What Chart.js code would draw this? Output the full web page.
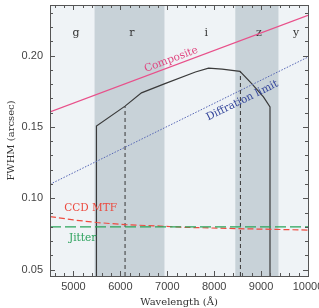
<!DOCTYPE html>
<html>
<head>
<meta charset="utf-8">
<script src="https://cdn.jsdelivr.net/npm/chart.js@4"></script>
<style>
html, body { margin: 0; padding: 0; background: #fff; }
</style>
</head>
<body>
<canvas id="fwhm-plot" width="319" height="308"></canvas>
<script>
// axis ranges and tick labels
let xMin = 4500, xMax = 10000;
let yMin = 0.0455, yMax = 0.2355;
let xTicks = [5000, 6000, 7000, 8000, 9000, 10000];
let yTicks = [0.05, 0.10, 0.15, 0.20];

// filter bands (shaded ones are r and z)
let bandNames = ['g', 'r', 'i', 'z', 'y'];
let bandLabelX = [5055, 6245, 7830, 8955, 9745];
let bandLabelY = 0.2156;
let shadeStart = [5450, 8450];
let shadeEnd = [6940, 9370];

// series
let compositeX = [4500, 10000];
let compositeY = [0.1606, 0.2282];
let diffX = [4500, 10000];
let diffY = [0.1098, 0.1990];
let ccdX = [4500, 5000, 5500, 6100, 6850, 7300, 8500, 10000];
let ccdY = [0.0872, 0.0848, 0.0830, 0.0815, 0.0805, 0.0797, 0.0787, 0.0777];
let jitterX = [4500, 10000];
let jitterY = [0.0799, 0.0799];
let fwhmX = [5490, 5490, 6100, 6450, 6950, 7600, 7880, 8170, 8550, 8800, 9050, 9190, 9190];
let fwhmY = [yMin, 0.1506, 0.1646, 0.1739, 0.1804, 0.1885, 0.1912, 0.1906, 0.1890, 0.1804, 0.1711, 0.1640, yMin];
let markX = [6100, 8560];
let markY = [0.1646, 0.1890];

// annotation labels
let noteText = ['Composite', 'Diffration limit', 'CCD MTF', 'Jitter'];
let noteX = [7083, 8600, 5365, 5194];
let noteY = [0.1972, 0.1684, 0.0927, 0.0717];

function pts(xs, ys) {
    return xs.map((v, i) => ({ x: v, y: ys[i] }));
}

function slopeAngle(xs, ys, sx, sy) {
    let x0 = sx.getPixelForValue(xs[0]), y0 = sy.getPixelForValue(ys[0]);
    let x1 = sx.getPixelForValue(xs[xs.length - 1]), y1 = sy.getPixelForValue(ys[ys.length - 1]);
    return Math.atan2(y1 - y0, x1 - x0);
}

const decor = {
    id: 'decor',
    beforeDatasetsDraw(chart) {
        const { ctx, chartArea: a, scales: { x, y } } = chart;
        ctx.save();
        ctx.fillStyle = '#eff3f6';
        ctx.fillRect(a.left, a.top, a.right - a.left, a.bottom - a.top);
        ctx.fillStyle = '#c8d2d8';
        for (let i = 0; i < shadeStart.length; i++) {
            let x0 = x.getPixelForValue(shadeStart[i]);
            let x1 = x.getPixelForValue(shadeEnd[i]);
            ctx.fillRect(x0, a.top, x1 - x0, a.bottom - a.top);
        }
        ctx.fillStyle = '#333';
        ctx.font = '11px "DejaVu Serif"';
        ctx.textAlign = 'center';
        ctx.textBaseline = 'middle';
        for (let i = 0; i < bandNames.length; i++) {
            ctx.fillText(bandNames[i], x.getPixelForValue(bandLabelX[i]), y.getPixelForValue(bandLabelY));
        }
        ctx.restore();
    },
    afterDatasetsDraw(chart) {
        const { ctx, chartArea: a, scales: { x, y } } = chart;
        ctx.save();
        ctx.strokeStyle = '#555';
        ctx.lineWidth = 1;
        ctx.beginPath();
        // x ticks, top and bottom, inward
        for (let v = 4600; v < xMax; v += 200) {
            let len = (v % 1000 === 0) ? 5 : 3;
            let px = Math.round(x.getPixelForValue(v)) + 0.5;
            ctx.moveTo(px, a.bottom); ctx.lineTo(px, a.bottom - len);
            ctx.moveTo(px, a.top); ctx.lineTo(px, a.top + len);
        }
        // y ticks, left and right
        for (let k = 5; k <= 23; k++) {
            let v = k / 100;
            let len = (k % 5 === 0) ? 5 : 3;
            let py = Math.round(y.getPixelForValue(v)) + 0.5;
            ctx.moveTo(a.left, py); ctx.lineTo(a.left + len, py);
            ctx.moveTo(a.right, py); ctx.lineTo(a.right - len, py);
        }
        ctx.stroke();
        ctx.strokeRect(Math.round(a.left) + 0.5, Math.round(a.top) + 0.5,
            Math.round(a.right - a.left), Math.round(a.bottom - a.top));

        // labels on the curves
        let colors = ['#e0457f', '#33449a', '#ec4a3f', '#29a05a'];
        let angles = [slopeAngle(compositeX, compositeY, x, y), slopeAngle(diffX, diffY, x, y), 0, 0];
        ctx.font = '10.5px "DejaVu Serif"';
        ctx.textAlign = 'center';
        ctx.textBaseline = 'middle';
        for (let i = 0; i < noteText.length; i++) {
            ctx.save();
            ctx.translate(x.getPixelForValue(noteX[i]), y.getPixelForValue(noteY[i]));
            ctx.rotate(angles[i]);
            ctx.fillStyle = colors[i];
            ctx.fillText(noteText[i], 0, 0);
            ctx.restore();
        }
        ctx.restore();
    }
};

let lineBase = { showLine: true, pointRadius: 0, fill: false, tension: 0 };

new Chart(document.getElementById('fwhm-plot'), {
    type: 'scatter',
    data: {
        datasets: [
            Object.assign({ label: 'Composite', data: pts(compositeX, compositeY), borderColor: '#e8508a', borderWidth: 1.2 }, lineBase),
            Object.assign({ label: 'Diffraction', data: pts(diffX, diffY), borderColor: '#5565b5', borderWidth: 1, borderDash: [1.5, 1.5] }, lineBase),
            Object.assign({ label: 'Jitter', data: pts(jitterX, jitterY), borderColor: '#2aa55a', borderWidth: 1.2, borderDash: [11, 4] }, lineBase),
            Object.assign({ label: 'CCD MTF', data: pts(ccdX, ccdY), borderColor: '#ee4b3f', borderWidth: 1.2, borderDash: [6, 3] }, lineBase),
            Object.assign({ label: 'r mark', data: [{ x: markX[0], y: yMin }, { x: markX[0], y: markY[0] }], borderColor: '#444', borderWidth: 1.1, borderDash: [4, 3] }, lineBase),
            Object.assign({ label: 'z mark', data: [{ x: markX[1], y: yMin }, { x: markX[1], y: markY[1] }], borderColor: '#444', borderWidth: 1.1, borderDash: [4, 3] }, lineBase),
            Object.assign({ label: 'FWHM', data: pts(fwhmX, fwhmY), borderColor: '#3a3a3a', borderWidth: 1.2 }, lineBase)
        ]
    },
    options: {
        responsive: false,
        animation: false,
        layout: { padding: { top: 5, right: 11, left: 0, bottom: 0 } },
        plugins: { legend: { display: false }, tooltip: { enabled: false } },
        scales: {
            x: {
                type: 'linear',
                min: xMin,
                max: xMax,
                grid: { display: false, drawTicks: false },
                border: { display: false },
                afterBuildTicks: (s) => { s.ticks = xTicks.map(v => ({ value: v })); },
                afterFit: (s) => { s.height = 32; s.paddingLeft = 0; s.paddingRight = 0; },
                ticks: {
                    padding: 4,
                    autoSkip: false,
                    maxRotation: 0,
                    color: '#444',
                    font: { family: 'Liberation Sans', size: 11 },
                    callback: (v) => String(v)
                },
                title: {
                    display: true,
                    text: 'Wavelength (Å)',
                    color: '#333',
                    font: { family: 'DejaVu Serif', size: 10 },
                    padding: { top: 0, bottom: 0 }
                }
            },
            y: {
                type: 'linear',
                min: yMin,
                max: yMax,
                grid: { display: false, drawTicks: false },
                border: { display: false },
                afterBuildTicks: (s) => { s.ticks = yTicks.map(v => ({ value: v })); },
                afterFit: (s) => { s.width = 50; s.paddingTop = 0; s.paddingBottom = 0; },
                ticks: {
                    padding: 7,
                    color: '#444',
                    font: { family: 'Liberation Sans', size: 11 },
                    callback: (v) => Number(v).toFixed(2)
                },
                title: {
                    display: true,
                    text: 'FWHM (arcsec)',
                    color: '#333',
                    font: { family: 'DejaVu Serif', size: 10 },
                    padding: { top: 5, bottom: 0 }
                }
            }
        }
    },
    plugins: [decor]
});
</script>
</body>
</html>
